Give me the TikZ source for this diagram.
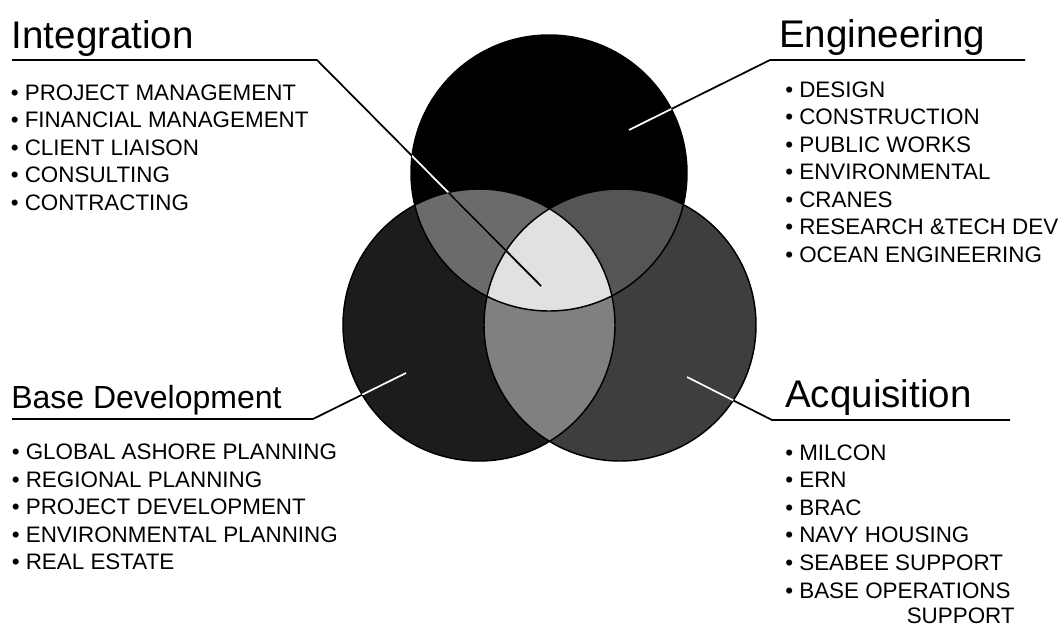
\documentclass[tikz,border=0pt]{standalone}
\usepackage{fontspec}
\setmainfont{Liberation Sans}
\definecolor{cTop}{HTML}{000000}
\definecolor{cLeft}{HTML}{1C1C1C}
\definecolor{cRight}{HTML}{3E3E3E}
\definecolor{cTL}{HTML}{6B6B6B}
\definecolor{cTR}{HTML}{555555}
\definecolor{cLR}{HTML}{808080}
\definecolor{cMid}{HTML}{E1E1E1}
\begin{document}
\begin{tikzpicture}[x=0.75pt,y=-0.75pt,
  ctop/.style={insert path={(549,173) circle[radius=138]}},
  cleft/.style={insert path={(479,325) circle[radius=136]}},
  cright/.style={insert path={(620,325) circle[radius=136]}},
  title/.style={anchor=base west,inner sep=0pt,font=\fontsize{28.9}{34}\selectfont},
  item/.style={anchor=base west,inner sep=0pt,font=\fontsize{16.8}{20}\selectfont},
  leader/.style={line width=1.3pt},
  outline/.style={line width=1.1pt,draw=black}]
\useasboundingbox (0,0) rectangle (1064,626);

% circle fills
\fill[cLeft,cleft];
\fill[cRight,cright];
\fill[cTop,ctop];
% pairwise overlaps
\begin{scope}
  \clip[cleft];
  \fill[cLR,cright];
\end{scope}
\begin{scope}
  \clip[ctop];
  \fill[cTL,cleft];
  \fill[cTR,cright];
\end{scope}
% common centre
\begin{scope}
  \clip[ctop];
  \clip[cleft];
  \fill[cMid,cright];
\end{scope}
% outlines
\draw[outline,ctop];
\draw[outline,cleft];
\draw[outline,cright];

% leader line end points
\coordinate (intL) at (12,60);
\coordinate (intK) at (317,60);
\coordinate (intE) at (541,286);
\coordinate (engR) at (1025,60);
\coordinate (engK) at (770,60);
\coordinate (engE) at (629,130);
\coordinate (basL) at (12,419);
\coordinate (basK) at (313,419);
\coordinate (basE) at (406,373);
\coordinate (acqR) at (1010,420);
\coordinate (acqK) at (772,420);
\coordinate (acqE) at (687,377);

% leaders: black on white, white over the dark circles
\draw[leader] (intL) -- (intK) -- (intE);
\begin{scope}
  \clip[ctop];
  \draw[leader,white] (intK) -- (intE);
  \clip[cleft];
  \draw[leader] (intK) -- (intE);
\end{scope}
\draw[leader] (engR) -- (engK) -- (engE);
\begin{scope}
  \clip[ctop];
  \draw[leader,white] (engK) -- (engE);
\end{scope}
\draw[leader] (basL) -- (basK) -- (basE);
\begin{scope}
  \clip[cleft];
  \draw[leader,white] (basK) -- (basE);
\end{scope}
\draw[leader] (acqR) -- (acqK) -- (acqE);
\begin{scope}
  \clip[cright];
  \draw[leader,white] (acqK) -- (acqE);
\end{scope}

% titles
\node[title] (intT) at (11.5,48) {Integration};
\node[title] (engT) at (779,47) {Engineering};
\node[title,font=\fontsize{24}{28}\selectfont] (basT) at (11,408) {Base Development};
\node[title] (acqT) at (785,407) {Acquisition};

% lists
\foreach \t [count=\i from 0] in {PROJECT MANAGEMENT,FINANCIAL MANAGEMENT,CLIENT LIAISON,CONSULTING,CONTRACTING}
  \node[item] (int-\i) at (10.5,100+27.5*\i) {\textbullet\ \t};
\foreach \t [count=\i from 0] in {DESIGN,CONSTRUCTION,PUBLIC WORKS,ENVIRONMENTAL,CRANES,RESEARCH \&TECH DEV,OCEAN ENGINEERING}
  \node[item] (eng-\i) at (785,97+27.5*\i) {\textbullet\ \t};
\foreach \t [count=\i from 0] in {GLOBAL ASHORE PLANNING,REGIONAL PLANNING,PROJECT DEVELOPMENT,ENVIRONMENTAL PLANNING,REAL ESTATE}
  \node[item] (bas-\i) at (11.5,459.5+27.6*\i) {\textbullet\ \t};
\foreach \t [count=\i from 0] in {MILCON,ERN,BRAC,NAVY HOUSING,SEABEE SUPPORT,BASE OPERATIONS}
  \node[item] (acq-\i) at (785,460+27.6*\i) {\textbullet\ \t};
\node[item] (acq-6) at (906.5,623) {SUPPORT};
\end{tikzpicture}
\end{document}
